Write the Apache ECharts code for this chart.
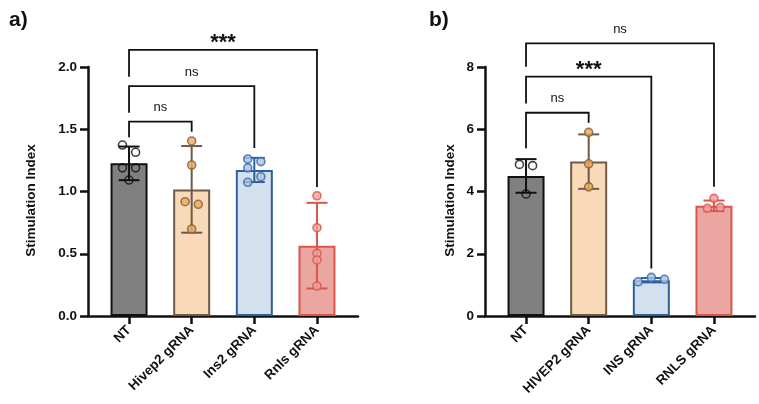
<!DOCTYPE html>
<html>
<head>
<meta charset="utf-8">
<script src="https://cdn.jsdelivr.net/npm/echarts@6/dist/echarts.min.js"></script>
<style>
  html, body { margin: 0; padding: 0; background: #fff; }
  #chart { width: 759px; height: 404px; }
</style>
</head>
<body>
<div id="chart"></div>
<script>
// panel a (mouse)
const catsA = ['NT', 'Hivep2 gRNA', 'Ins2 gRNA', 'Rnls gRNA']
const meansA = [1.226, 1.017, 1.173, 0.565]
const sdA = [0.135, 0.348, 0.097, 0.344]
const pointsA = [
  [1.373, 1.315, 1.19, 1.19, 1.092],
  [1.406, 1.213, 0.918, 0.897, 0.699],
  [1.261, 1.24, 1.19, 1.119, 1.074],
  [0.966, 0.709, 0.503, 0.45, 0.241],
]
// brackets: [from, to, top, left leg end, right leg end]
const bracketsA = [[0, 1, 1.561, 1.435, 1.48], [0, 2, 1.847, 1.633, 1.349], [0, 3, 2.137, 1.922, 1.036]]
const bracketLabelsA = ['ns', 'ns', '***']

// panel b (human)
const catsB = ['NT', 'HIVEP2 gRNA', 'INS gRNA', 'RNLS gRNA']
const meansB = [4.5, 4.96, 1.15, 3.54]
const sdB = [0.54, 0.875, 0.07, 0.17]
const pointsB = [
  [4.87, 4.83, 3.92],
  [5.9, 4.89, 4.15],
  [1.1, 1.24, 1.18],
  [3.78, 3.46, 3.49],
]
const bracketsB = [[0, 1, 6.53, 5.39, 6.21], [0, 2, 7.69, 6.83, 1.53], [0, 3, 8.76, 8.01, 4.15]]
const bracketLabelsB = ['ns', '***', 'ns']

// horizontal scatter of the dots inside each bar (layout only)
const jitterA = [[-0.105, 0.105, -0.105, 0.105, 0], [0, 0, -0.105, 0.105, 0], [-0.105, 0.105, -0.105, 0.105, -0.105], [0, 0, 0, 0, 0]]
const jitterB = [[-0.105, 0.105, 0], [0, 0, 0], [-0.21, 0, 0.21], [0, -0.105, 0.1]]

const fills = ['#808080', '#f8d9b8', '#d3e0ee', '#eca6a1']
const strokes = ['#111111', '#6e5a45', '#30609a', '#d8574c']
const dotFills = ['rgba(0,0,0,0)', '#f0aa55', '#a9c3e1', '#f2a19b']
const dotStrokes = ['#111111', '#7a6043', '#3a69a3', '#d9544d']

const FONT = '"Liberation Sans", Arial, sans-serif'
const INK = '#111111'

function xAxisFor(gridIndex, cats) {
  return {
    type: 'value', gridIndex, min: -0.655, max: 3.655,
    splitLine: { show: false },
    axisLine: { show: true, onZero: false, lineStyle: { color: INK, width: 2.5 } },
    axisTick: { show: true, customValues: [0, 1, 2, 3], length: 8, lineStyle: { color: INK, width: 2.5 } },
    axisLabel: {
      customValues: [0, 1, 2, 3], formatter: (v) => cats[Math.round(v)], rotate: 45, margin: 12,
      color: INK, fontWeight: 'bold', fontSize: 13.5, fontFamily: FONT,
    },
  }
}

function yAxisFor(gridIndex, max, interval, digits, nameGap) {
  return {
    type: 'value', gridIndex, min: 0, max, interval,
    name: 'Stimulation Index', nameLocation: 'middle', nameGap,
    nameTextStyle: { color: INK, fontWeight: 'bold', fontSize: 13.5, fontFamily: FONT, padding: [0, 18, 0, 0] },
    splitLine: { show: false },
    axisLine: { show: true, onZero: false, lineStyle: { color: INK, width: 2.5 } },
    axisTick: { show: true, length: 8, lineStyle: { color: INK, width: 2.5 } },
    axisLabel: {
      formatter: (v) => v.toFixed(digits), margin: 11,
      color: INK, fontWeight: 'bold', fontSize: 13.5, fontFamily: FONT,
    },
  }
}

function panelSeries(axisIndex, means, sd, points, jitter, brackets, labels) {
  const bars = {
    type: 'bar', xAxisIndex: axisIndex, yAxisIndex: axisIndex, barWidth: 37, z: 2,
    data: means.map((m, i) => ({
      value: [i, m],
      itemStyle: { color: fills[i], borderColor: strokes[i], borderWidth: 2 },
    })),
  }
  const errors = {
    type: 'custom', xAxisIndex: axisIndex, yAxisIndex: axisIndex, z: 3, clip: false,
    data: means.map((m, i) => [i, m, sd[i]]),
    renderItem(params, api) {
      const x = api.value(0), m = api.value(1), s = api.value(2)
      const hi = api.coord([x, m + s]), lo = api.coord([x, m - s])
      const style = { stroke: strokes[params.dataIndex], lineWidth: 2 }
      return {
        type: 'group',
        children: [
          { type: 'line', shape: { x1: hi[0], y1: hi[1], x2: lo[0], y2: lo[1] }, style },
          { type: 'line', shape: { x1: hi[0] - 10.5, y1: hi[1], x2: hi[0] + 10.5, y2: hi[1] }, style },
          { type: 'line', shape: { x1: lo[0] - 10.5, y1: lo[1], x2: lo[0] + 10.5, y2: lo[1] }, style },
        ],
      }
    },
  }
  const dots = {
    type: 'scatter', xAxisIndex: axisIndex, yAxisIndex: axisIndex, z: 4, symbolSize: 8,
    data: points.flatMap((vals, i) => vals.map((v, j) => ({
      value: [i + jitter[i][j], v],
      itemStyle: { color: dotFills[i], borderColor: dotStrokes[i], borderWidth: 1.6 },
    }))),
  }
  const marks = {
    type: 'custom', xAxisIndex: axisIndex, yAxisIndex: axisIndex, z: 5, clip: false,
    data: brackets,
    renderItem(params, api) {
      const x1 = api.value(0), x2 = api.value(1), top = api.value(2)
      const a = api.coord([x1, api.value(3)]), b = api.coord([x1, top])
      const c = api.coord([x2, top]), d = api.coord([x2, api.value(4)])
      const text = labels[params.dataIndex]
      const stars = text === '***'
      return {
        type: 'group',
        children: [
          { type: 'polyline', shape: { points: [a, b, c, d] }, style: { stroke: INK, lineWidth: 1.8, fill: null } },
          {
            type: 'text',
            style: {
              text, x: (b[0] + c[0]) / 2, y: b[1] - (stars ? 7 : 14),
              align: 'center', verticalAlign: 'middle', fill: INK,
              font: stars ? `bold 22px ${FONT}` : `13px ${FONT}`,
            },
          },
        ],
      }
    },
  }
  return [bars, errors, dots, marks]
}

const chart = echarts.init(document.getElementById('chart'))
chart.setOption({
  animation: false,
  backgroundColor: '#fff',
  title: [
    { text: 'a)', left: 4, top: 5, textStyle: { fontSize: 21, fontWeight: 'bold', color: INK, fontFamily: FONT } },
    { text: 'b)', left: 424, top: 5, textStyle: { fontSize: 21, fontWeight: 'bold', color: INK, fontFamily: FONT } },
  ],
  grid: [
    { left: 88, top: 67, width: 270, height: 249 },
    { left: 485, top: 67, width: 270, height: 249 },
  ],
  xAxis: [xAxisFor(0, catsA), xAxisFor(1, catsB)],
  yAxis: [yAxisFor(0, 2, 0.5, 1, 50), yAxisFor(1, 8, 2, 0, 28)],
  series: [
    ...panelSeries(0, meansA, sdA, pointsA, jitterA, bracketsA, bracketLabelsA),
    ...panelSeries(1, meansB, sdB, pointsB, jitterB, bracketsB, bracketLabelsB),
  ],
})
</script>
</body>
</html>
